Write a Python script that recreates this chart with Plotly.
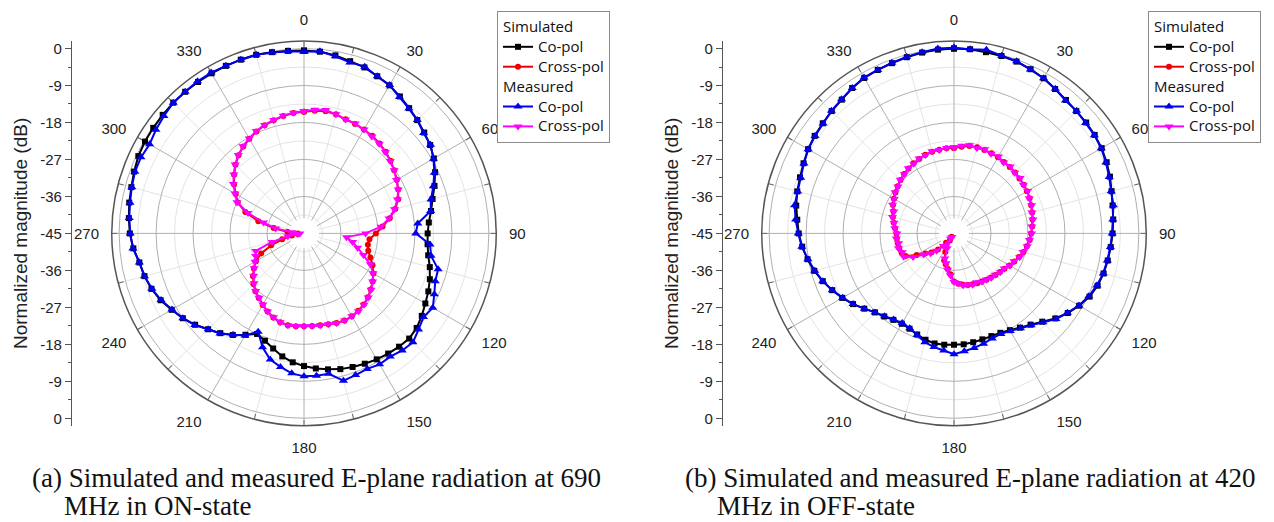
import plotly.graph_objects as go

# ---------------- data (dB, sampled every 5 degrees from 0 to 355) ----------------
ANGLES = list(range(0, 360, 5))

LEFT_SIM_CO = [-0.5, -0.6, -1.0, -1.6, -2.0, -2.8, -3.4, -4.3, -5.2, -6.0,
               -6.8, -7.5, -8.5, -9.8, -11.2, -12.6, -13.6, -14.5, -14.9, -14.8,
               -14.3, -13.3, -12.4, -11.6, -10.9, -10.0, -9.2, -8.8, -9.0, -9.3,
               -9.6, -10.0, -10.4, -10.8, -11.4, -12.0, -12.7, -13.5, -14.6, -16.0,
               -17.2, -18.0, -16.5, -14.8, -13.3, -12.0, -10.4, -9.0, -7.8, -6.5,
               -5.5, -4.8, -4.3, -3.3, -2.6, -2.2, -1.8, -1.5, -1.0, -0.5,
               -0.3, -0.2, -0.1, 0.0, 0.0, 0.0, 0.0, 0.0, 0.0, 0.0,
               -0.2, -0.4]
LEFT_SIM_X = [-15.4, -15.0, -14.8, -15.0, -15.4, -15.6, -15.8, -16.0, -16.4, -16.9,
              -17.5, -18.2, -18.9, -19.7, -20.6, -22.0, -23.8, -25.8, -27.5, -29.0,
              -29.2, -28.8, -27.8, -26.6, -25.5, -24.6, -23.8, -23.0, -22.4, -22.0,
              -21.7, -21.6, -21.8, -22.1, -22.3, -22.4, -22.4, -22.3, -22.3, -22.6,
              -23.2, -24.0, -24.9, -25.8, -26.6, -27.6, -28.8, -30.1, -31.5, -33.5,
              -36.5, -39.5, -42.0, -43.5, -43.5, -41.0, -37.5, -33.5, -29.8, -27.2,
              -25.8, -24.2, -22.8, -21.4, -20.2, -19.2, -18.4, -17.6, -17.0, -16.5,
              -16.0, -15.6]
LEFT_MEAS_CO = [-0.8, -0.5, -1.2, -1.9, -1.8, -2.8, -3.3, -4.5, -5.3, -6.0,
                -7.0, -7.4, -8.6, -10.0, -11.5, -13.0, -13.7, -17.2, -17.8, -14.2,
                -13.6, -11.2, -11.0, -10.0, -8.8, -9.5, -8.6, -7.5, -7.8, -8.4,
                -8.2, -8.6, -8.3, -7.9, -10.3, -10.2, -10.2, -10.8, -12.0, -13.2,
                -15.5, -18.6, -16.3, -14.9, -13.2, -12.0, -10.3, -9.0, -7.9, -6.6,
                -5.6, -4.8, -4.3, -3.2, -2.7, -2.3, -2.0, -1.6, -1.2, -1.2,
                -1.6, -1.0, -0.5, 0.0, 0.0, 0.2, 0.2, 0.0, 0.0, 0.0,
                -0.3, -0.5]
LEFT_MEAS_X = [-15.2, -14.8, -14.5, -15.0, -15.5, -15.5, -15.8, -16.2, -16.5, -17.0,
               -17.6, -18.2, -19.0, -19.7, -20.8, -22.2, -24.0, -26.2, -30.0, -34.6,
               -33.0, -31.5, -29.6, -27.2, -25.6, -24.6, -23.7, -22.9, -22.3, -21.9,
               -21.7, -21.6, -21.8, -22.1, -22.3, -22.4, -22.4, -22.4, -22.3, -22.6,
               -23.3, -24.0, -25.0, -25.9, -26.7, -27.8, -29.0, -30.2, -31.2, -32.0,
               -32.5, -37.0, -41.0, -43.5, -44.0, -42.0, -38.0, -34.8, -30.5, -27.0,
               -25.6, -24.0, -22.7, -21.3, -20.1, -19.1, -18.3, -17.5, -16.9, -16.4,
               -15.9, -15.5]

RIGHT_SIM_CO = [0.0, 0.0, -0.2, -0.3, -0.5, -0.9, -1.4, -2.1, -2.6, -2.9,
                -3.0, -3.2, -3.5, -4.0, -4.6, -5.3, -5.8, -6.1, -6.4, -6.7,
                -7.0, -7.3, -7.8, -8.6, -9.8, -11.2, -12.8, -14.6, -16.0, -17.0,
                -17.8, -18.3, -18.4, -18.3, -18.1, -17.9, -17.9, -17.8, -17.8, -18.2,
                -18.8, -19.4, -19.6, -19.3, -18.6, -17.8, -16.5, -15.0, -13.6, -12.3,
                -11.0, -9.8, -8.8, -7.9, -7.2, -6.7, -6.0, -5.5, -5.1, -4.6,
                -4.0, -3.6, -3.3, -2.9, -2.5, -1.8, -1.3, -1.1, -0.9, -0.6,
                -0.3, -0.1]
RIGHT_SIM_X = [-24.2, -23.8, -23.4, -23.3, -23.4, -23.5, -23.6, -23.8, -23.9, -24.0,
               -24.2, -24.3, -24.5, -24.7, -25.0, -25.3, -25.6, -25.9, -26.2, -26.5,
               -27.0, -27.5, -28.2, -28.8, -29.4, -30.0, -30.4, -30.7, -31.0, -31.2,
               -31.5, -31.6, -31.8, -32.0, -32.3, -32.7, -33.3, -35.0, -36.2, -37.2,
               -38.0, -40.0, -43.0, -44.0, -42.0, -39.5, -37.8, -36.5, -34.5, -32.0,
               -31.4, -31.2, -31.1, -31.0, -31.0, -30.6, -30.1, -29.6, -29.3, -28.6,
               -28.1, -27.6, -27.1, -26.6, -26.1, -25.7, -25.3, -25.0, -24.6, -24.4,
               -24.3, -24.2]
RIGHT_MEAS_CO = [0.2, 0.0, 0.4, -0.2, -0.4, -1.0, -1.4, -2.0, -2.8, -2.8,
                 -3.2, -3.3, -3.6, -4.2, -4.8, -5.4, -5.6, -6.2, -6.5, -6.8,
                 -7.1, -7.4, -8.0, -8.8, -9.9, -11.3, -12.6, -14.4, -15.8, -16.8,
                 -17.6, -18.0, -17.8, -17.2, -16.7, -16.2, -15.6, -16.4, -16.9, -17.6,
                 -18.7, -19.5, -19.8, -19.4, -18.7, -17.8, -16.5, -15.0, -13.7, -12.3,
                 -11.0, -9.9, -8.9, -7.8, -7.1, -6.3, -5.6, -5.6, -5.3, -4.7,
                 -4.0, -3.7, -3.4, -2.8, -2.4, -1.8, -1.2, -1.1, -0.8, -0.5,
                 -0.2, 0.2]
RIGHT_MEAS_X = [-24.0, -23.6, -23.2, -23.5, -23.2, -23.6, -23.4, -23.9, -23.7, -24.1,
                -24.0, -24.4, -24.3, -24.8, -24.9, -25.4, -25.5, -26.0, -26.1, -26.6,
                -26.9, -27.6, -28.0, -28.9, -29.3, -30.1, -30.3, -30.8, -30.9, -31.3,
                -31.4, -31.9, -31.7, -32.1, -32.2, -32.8, -33.2, -34.8, -36.0, -37.5,
                -38.5, -41.0, -44.0, -43.5, -41.0, -39.0, -37.5, -36.0, -33.5, -31.5,
                -31.6, -31.0, -31.3, -30.9, -31.1, -30.5, -30.2, -29.5, -29.4, -28.5,
                -28.2, -27.5, -27.2, -26.5, -26.2, -25.6, -25.4, -24.9, -24.7, -24.3,
                -24.4, -24.1]

ANGLE_MAJOR = list(range(0, 360, 30))
ANGLE_MINOR = list(range(15, 360, 30))
ANGLE_LABELS = [str(a) for a in ANGLE_MAJOR]
RADIAL_MAJOR = [-36, -27, -18, -9, 0]
RADIAL_MINOR = [-40.5, -31.5, -22.5, -13.5, -4.5]
DB_TICKS = [-45, -36, -27, -18, -9, 0, 9, 18, 27, 36, 45]
DB_LABELS = ["0", "-9", "-18", "-27", "-36", "-45", "-36", "-27", "-18", "-9", "0"]

CAPTION_A = ["(a) Simulated and measured E-plane radiation at 690", "MHz in ON-state"]
CAPTION_B = ["(b) Simulated and measured E-plane radiation at 420", "MHz in OFF-state"]

# ---------------- geometry ----------------
W, H = 1274, 522
R_MAX = 1.8
HOLE = 0.078
R_MIN_HOLE = -45 + HOLE * (R_MAX + 45)
SIZE = 386


def dom(cx, cy):
    return dict(x=[(cx - SIZE / 2) / W, (cx + SIZE / 2) / W],
                y=[(H - cy - SIZE / 2) / H, (H - cy + SIZE / 2) / H])


def big(t):
    return '<span style="font-size:15px">' + t + '</span>'


panels = [
    dict(cx=304, cy=233.3, axis_x=71, data=(LEFT_SIM_CO, LEFT_SIM_X, LEFT_MEAS_CO, LEFT_MEAS_X),
         legend="legend", leg_x=497, caption=CAPTION_A, cap_x=30),
    dict(cx=954, cy=233.3, axis_x=722, data=(RIGHT_SIM_CO, RIGHT_SIM_X, RIGHT_MEAS_CO, RIGHT_MEAS_X),
         legend="legend2", leg_x=1148, caption=CAPTION_B, cap_x=683),
]

fig = go.Figure()
layout = dict(width=W, height=H, margin=dict(l=0, r=0, t=0, b=0),
              paper_bgcolor="white", plot_bgcolor="white",
              font=dict(family="Liberation Sans", size=13, color="#222"),
              annotations=[], showlegend=True)

styles = [
    ("sim", "Simulated", "Co-pol", "black", "square", 6),
    ("sim", "Simulated", "Cross-pol", "#ee0000", "circle", 6),
    ("meas", "Measured", "Co-pol", "#0000ee", "triangle-up", 8),
    ("meas", "Measured", "Cross-pol", "#ff00ff", "triangle-down", 8),
]

for i, p in enumerate(panels):
    base = 3 * i
    minor_id = "polar" if base == 0 else f"polar{base + 1}"
    major_id = f"polar{base + 2}"
    data_id = f"polar{base + 3}"
    d = dom(p["cx"], p["cy"])

    layout[minor_id] = dict(
        domain=d, hole=HOLE, bgcolor="white",
        radialaxis=dict(range=[R_MIN_HOLE, R_MAX], tickvals=RADIAL_MINOR, showticklabels=False,
                        ticks="", showline=False, gridcolor="#e4e4e4", gridwidth=1),
        angularaxis=dict(direction="clockwise", rotation=90, tickvals=ANGLE_MINOR,
                         showticklabels=False, ticks="inside", ticklen=5, tickcolor="#666",
                         showline=False, gridcolor="#e4e4e4"))
    layout[major_id] = dict(
        domain=d, hole=HOLE, bgcolor="rgba(0,0,0,0)",
        radialaxis=dict(range=[R_MIN_HOLE, R_MAX], tickvals=RADIAL_MAJOR, showticklabels=False,
                        ticks="", showline=False, gridcolor="#b0b0b0", gridwidth=1),
        angularaxis=dict(direction="clockwise", rotation=90, tickvals=ANGLE_MAJOR,
                         showticklabels=False, ticks="inside", ticklen=5, tickcolor="#666",
                         showline=False, gridcolor="#b0b0b0"))
    layout[data_id] = dict(
        domain=d, bgcolor="rgba(0,0,0,0)",
        radialaxis=dict(range=[-45, R_MAX], visible=False),
        angularaxis=dict(direction="clockwise", rotation=90, tickvals=ANGLE_MAJOR,
                         ticktext=ANGLE_LABELS, ticks="outside", ticklen=9,
                         tickcolor="rgba(0,0,0,0)",
                         showgrid=False, showline=True, linecolor="#555", linewidth=1.5,
                         tickfont=dict(family="Liberation Sans", size=15, color="#222")))

    for sid in (minor_id, major_id):
        fig.add_trace(go.Scatterpolar(r=[None], theta=[None], subplot=sid, showlegend=False,
                                      hoverinfo="skip", mode="lines"))

    for (grp, gtitle, name, color, symbol, msize), vals in zip(styles, p["data"]):
        fig.add_trace(go.Scatterpolar(
            r=list(vals) + [vals[0]], theta=ANGLES + [360], subplot=data_id,
            mode="lines+markers", name=big(name),
            line=dict(color=color, width=2),
            marker=dict(symbol=symbol, size=msize, color=color),
            legendgroup=grp,
            legendgrouptitle=dict(text=big(gtitle), font=dict(family="Open Sans", size=13, color="#111")),
            legend=p["legend"]))

    # left vertical dB axis
    xa = "xaxis" if i == 0 else "xaxis2"
    ya = "yaxis" if i == 0 else "yaxis2"
    layout[xa] = dict(domain=[p["axis_x"] / W, p["axis_x"] / W + 0.01], visible=False,
                      anchor="y" if i == 0 else "y2")
    layout[ya] = dict(domain=d["y"], range=[-(45 + R_MAX), 45 + R_MAX], anchor="free",
                      position=p["axis_x"] / W, tickvals=DB_TICKS, ticktext=DB_LABELS,
                      ticks="outside", ticklen=6, tickcolor="#555", showline=True,
                      linecolor="#555", linewidth=1.2, showgrid=False, zeroline=False,
                      minor=dict(ticks="outside", ticklen=3, tickcolor="#555", dtick=4.5, tick0=-45.0),
                      tickfont=dict(family="Liberation Sans", size=15, color="#222"),
                      title=dict(text="Normalized magnitude (dB)", standoff=6,
                                 font=dict(family="Liberation Sans", size=19, color="#222")))
    fig.add_trace(go.Scatter(x=[None], y=[None], xaxis="x" if i == 0 else "x2",
                             yaxis="y" if i == 0 else "y2", showlegend=False, hoverinfo="skip"))

    layout[p["legend"]] = dict(x=p["leg_x"] / W, y=1 - 10 / H, xanchor="left", yanchor="top",
                               bgcolor="white", bordercolor="#8c8c8c", borderwidth=1,
                               tracegroupgap=0, traceorder="grouped",
                               font=dict(family="Open Sans", size=13, color="#111"))

    for j, line in enumerate(p["caption"]):
        layout["annotations"].append(dict(
            text=line, xref="paper", yref="paper", x=(p["cap_x"] + (0 if j == 0 else 32)) / W,
            y=1 - (479 + 28 * j) / H, xanchor="left", yanchor="middle", showarrow=False,
            font=dict(family="Liberation Serif", size=27, color="#111")))

fig.update_layout(**layout)
fig.write_html("out.html", config={"displayModeBar": False},
               post_script="document.body.style.margin='0px';")
